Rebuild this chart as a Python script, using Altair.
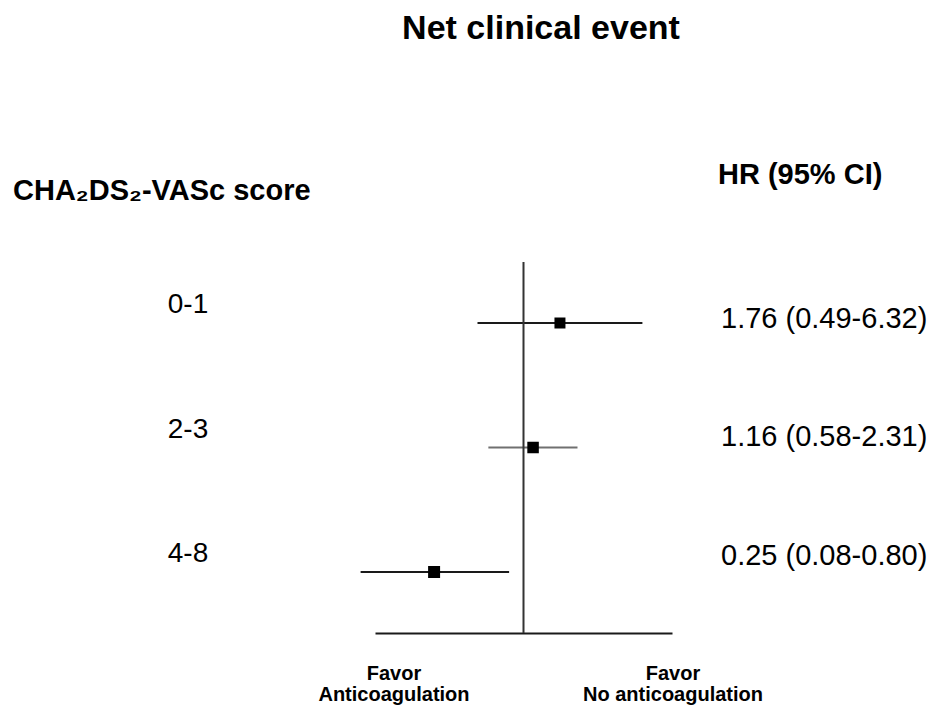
import altair as alt
import pandas as pd

# ---- data ----
groups = ["0-1", "2-3", "4-8"]
rows = [1, 2, 3]
hr = [1.76, 1.16, 0.25]
ci_low = [0.49, 0.58, 0.08]
ci_high = [6.32, 2.31, 0.80]

title_text = "Net clinical event"
left_header = "CHA\u2082DS\u2082-VASc score"
right_header = "HR (95% CI)"
favor_left = "Favor\nAnticoagulation"
favor_right = "Favor\nNo anticoagulation"

FONT = "Liberation Sans"

df = pd.DataFrame({
    "group": groups,
    "row": rows,
    "hr": hr,
    "lo": ci_low,
    "hi": ci_high,
})
df["label"] = [f"{h:.2f} ({l:.2f}-{u:.2f})" for h, l, u in zip(hr, ci_low, ci_high)]

x_scale = alt.Scale(type="log", domain=[0.1, 10])
x_axis = alt.Axis(title=None, labels=False, ticks=False, grid=False,
                  domain=True, domainColor="#1a1a1a", domainWidth=2)
y_row = alt.Y("row:Q", scale=alt.Scale(domain=[0.51, 3.49], reverse=True), axis=None)

base = alt.Chart(df)

ci = base.mark_rule(strokeWidth=2).encode(
    x=alt.X("lo:Q", scale=x_scale, axis=x_axis),
    x2="hi:Q",
    y=y_row,
    color=alt.Color("group:N", scale=alt.Scale(domain=groups, range=["#1a1a1a", "#707070", "#1a1a1a"]), legend=None),
)

ref = alt.Chart(pd.DataFrame({"ref": [1.0]})).mark_rule(color="#333333", strokeWidth=2).encode(
    x=alt.X("ref:Q", scale=x_scale, axis=x_axis),
)

pts = base.mark_square(color="black", opacity=1).encode(
    x=alt.X("hr:Q", scale=x_scale, axis=x_axis),
    y=y_row,
    size=alt.Size("group:O", scale=alt.Scale(domain=groups, range=[121, 144, 196]), legend=None),
)

row_labels = base.mark_text(font=FONT, fontSize=28, align="center", baseline="alphabetic",
                            dy=-10, color="black").encode(
    x=alt.value(-187),
    y=y_row,
    text="group:N",
)

hr_labels = base.mark_text(font=FONT, fontSize=29, align="left", baseline="alphabetic",
                           color="black").encode(
    x=alt.value(346),
    y=alt.Y("row:Q", scale=alt.Scale(domain=[0.443, 3.574], reverse=True), axis=None),
    text="label:N",
)

title_mark = alt.Chart(pd.DataFrame({"t": [title_text]})).mark_text(
    font=FONT, fontSize=34, fontWeight="bold", align="center", baseline="alphabetic", color="black"
).encode(x=alt.value(166), y=alt.value(-223), text="t:N")

hdr_left = alt.Chart(pd.DataFrame({"t": [left_header]})).mark_text(
    font=FONT, fontSize=29, fontWeight="bold", align="left", baseline="alphabetic", color="black"
).encode(x=alt.value(-362), y=alt.value(-62), text="t:N")

hdr_right = alt.Chart(pd.DataFrame({"t": [right_header]})).mark_text(
    font=FONT, fontSize=29, fontWeight="bold", align="left", baseline="alphabetic", color="black"
).encode(x=alt.value(343), y=alt.value(-78), text="t:N")

fav_l = alt.Chart(pd.DataFrame({"t": [favor_left]})).mark_text(
    font=FONT, fontSize=20, fontWeight="bold", align="center", baseline="alphabetic",
    lineBreak="\n", lineHeight=21, color="black"
).encode(x=alt.value(19), y=alt.value(418), text="t:N")

fav_r = alt.Chart(pd.DataFrame({"t": [favor_right]})).mark_text(
    font=FONT, fontSize=20, fontWeight="bold", align="center", baseline="alphabetic",
    lineBreak="\n", lineHeight=21, color="black"
).encode(x=alt.value(298), y=alt.value(418), text="t:N")

chart = alt.layer(
    ci, ref, pts, row_labels, hr_labels, title_mark, hdr_left, hdr_right, fav_l, fav_r
).resolve_scale(
    y="independent"
).properties(
    width=297,
    height=371,
    autosize="none",
    padding={"left": 367, "top": 254, "right": 255, "bottom": 74},
    view=alt.ViewBackground(strokeWidth=0, strokeOpacity=0, fill="white"),
).configure_view(
    strokeWidth=0, strokeOpacity=0
).configure_axis(
    grid=False
).configure(background="white")

chart.save("out.html", embed_options={"renderer": "svg", "actions": False})
